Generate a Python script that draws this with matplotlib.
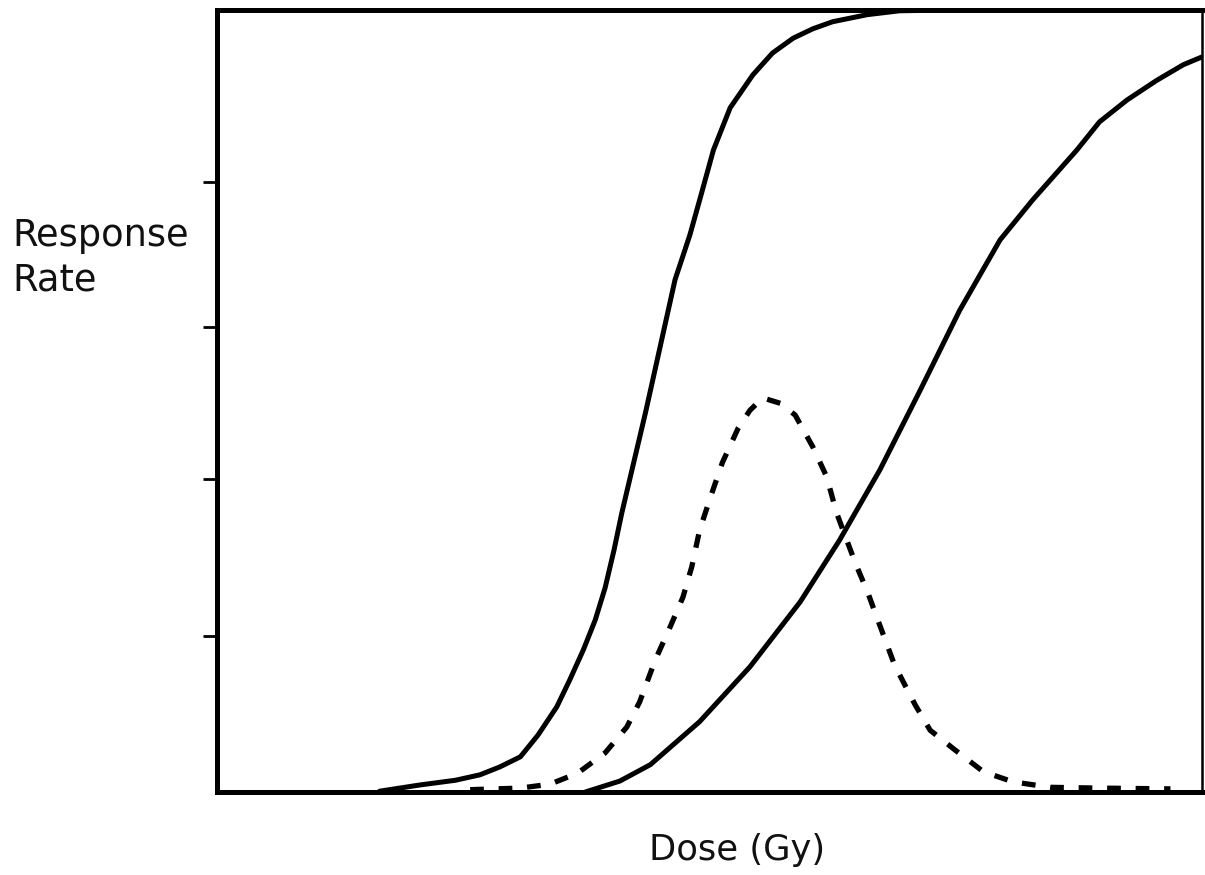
import matplotlib
matplotlib.use('Agg')
import matplotlib.pyplot as plt

# ── data (dose in arbitrary units, response in %) ──
tcp_dose = [16.5, 20.6, 24.2, 26.7, 28.7, 30.8, 32.6, 34.5, 35.8, 37.2, 38.4,
            39.4, 40.3, 41.1, 43.5, 45.0, 46.5, 48.0, 49.0, 50.4, 52.1, 54.4,
            56.4, 58.5, 60.5, 62.5, 66.0, 69.3, 74.4, 79.5]
tcp_resp = [0.1, 0.9, 1.5, 2.2, 3.2, 4.5, 7.3, 10.9, 14.3, 18.2, 22.0,
            26.1, 30.9, 35.7, 48.5, 57.0, 65.5, 71.2, 75.7, 82.1, 87.5, 91.7,
            94.5, 96.4, 97.6, 98.5, 99.4, 99.9, 100.0, 100.0]

ntcp_dose = [37.4, 40.9, 44.0, 49.0, 54.1, 59.2, 63.2, 67.3, 71.4, 75.4,
             79.5, 82.8, 87.3, 89.6, 92.4, 95.4, 98.1, 100.0]
ntcp_resp = [0.0, 1.4, 3.5, 9.0, 16.0, 24.3, 32.2, 41.2, 51.4, 61.6,
             70.6, 75.7, 82.1, 85.7, 88.5, 91.0, 93.0, 94.0]

utc_dose = [25.7, 30.8, 33.8, 36.6, 39.4, 41.6, 42.9, 44.5, 46.0, 47.3, 48.2,
            49.0, 50.1, 51.3, 52.9, 54.1, 55.4, 57.2, 58.7, 60.5, 61.9, 62.9,
            64.8, 66.1, 67.0, 68.8, 70.9, 72.4, 74.9, 77.8, 80.8, 84.6, 89.6,
            96.8]
utc_resp = [0.3, 0.5, 1.0, 2.4, 5.0, 8.3, 11.5, 16.9, 21.1, 24.9, 28.8,
            33.5, 37.7, 42.1, 46.5, 48.8, 50.4, 49.7, 48.2, 44.1, 40.3, 35.7,
            29.3, 25.4, 22.3, 16.2, 11.1, 7.9, 5.4, 2.6, 1.3, 0.6, 0.5, 0.4]

ytick_vals = [20, 40, 59.5, 78]

fig = plt.figure(figsize=(12.05, 8.75), dpi=100)
ax = fig.add_axes([217 / 1205, 1 - 792 / 875, 985 / 1205, 782 / 875])

ax.plot(tcp_dose, tcp_resp, color='black', lw=3.6, solid_capstyle='round',
        solid_joinstyle='round')
ax.plot(ntcp_dose, ntcp_resp, color='black', lw=3.6, solid_capstyle='round',
        solid_joinstyle='round')
ax.plot(utc_dose, utc_resp, color='black', lw=3.8, linestyle=(0, (2.6, 2.8)))

ax.set_xlim(0, 100)
ax.set_ylim(0, 100)

ax.set_xticks([])
ax.set_yticks(ytick_vals)
ax.set_yticklabels([])
ax.tick_params(axis='y', direction='out', length=10, width=2, color='black')

for side in ('left', 'top', 'bottom'):
    ax.spines[side].set_linewidth(3.6)
ax.spines['right'].set_linewidth(1.8)

fig.text(12 / 1205, 1 - 258 / 875, 'Response\nRate', ha='left', va='center',
         fontsize=26.5, linespacing=1.25, color='#111111')
fig.text(737 / 1205, 1 - 850 / 875, 'Dose (Gy)', ha='center', va='center',
         fontsize=25.5, color='#111111')

fig.savefig('out.png', dpi=100)
